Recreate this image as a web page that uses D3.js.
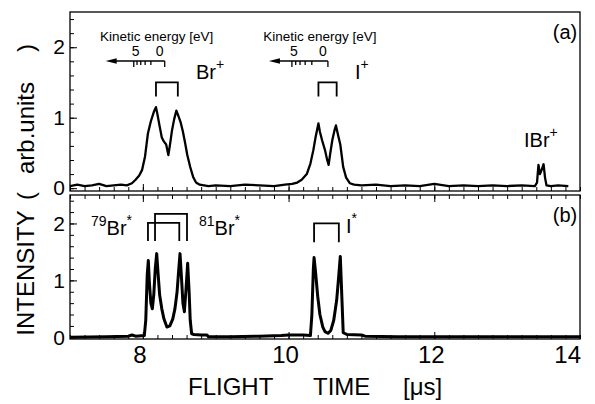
<!DOCTYPE html>
<html>
<head>
<meta charset="utf-8">
<script src="https://cdn.jsdelivr.net/npm/d3@7"></script>
<style>
    body { margin: 0; background: #fff; }
    text { font-family: "Liberation Sans", Arial, sans-serif; fill: #000; }
</style>
</head>
<body>
<script>
// flight time axis, intensity ticks
var timeTicks = [8, 10, 12, 14];
var intensityTicks = [0, 1, 2];

// (a) non-resonant spectrum: [flight time (us), intensity]
var spectrumA = [
    [7.0, 0.03], [7.1, 0.05], [7.2, 0.03], [7.3, 0.04], [7.4, 0.06],
    [7.5, 0.03], [7.6, 0.04], [7.7, 0.05], [7.78, 0.04], [7.85, 0.07],
    [7.9, 0.12], [7.95, 0.18], [7.99, 0.26], [8.03, 0.45], [8.07, 0.78],
    [8.11, 0.95], [8.15, 1.08], [8.18, 1.15], [8.2, 1.05], [8.23, 0.88],
    [8.26, 0.72], [8.29, 0.66], [8.32, 0.62], [8.35, 0.47], [8.37, 0.6],
    [8.4, 0.82], [8.43, 0.98], [8.46, 1.1], [8.49, 1.02], [8.52, 0.93],
    [8.55, 0.8], [8.58, 0.64], [8.61, 0.47], [8.65, 0.3], [8.69, 0.16],
    [8.73, 0.08], [8.78, 0.05], [8.9, 0.03], [9.0, 0.04], [9.2, 0.03],
    [9.4, 0.05], [9.6, 0.04], [9.8, 0.03], [9.95, 0.05], [10.05, 0.06],
    [10.12, 0.08], [10.18, 0.12], [10.25, 0.2], [10.3, 0.35], [10.34, 0.54],
    [10.37, 0.72], [10.41, 0.92], [10.43, 0.8], [10.46, 0.68], [10.5, 0.54],
    [10.53, 0.4], [10.55, 0.33], [10.57, 0.48], [10.6, 0.68], [10.63, 0.82],
    [10.65, 0.89], [10.68, 0.75], [10.71, 0.62], [10.75, 0.3], [10.79, 0.15],
    [10.84, 0.07], [10.9, 0.05], [11.0, 0.04], [11.2, 0.05], [11.4, 0.03],
    [11.6, 0.04], [11.8, 0.03], [12.0, 0.06], [12.2, 0.03], [12.4, 0.04],
    [12.6, 0.03], [12.8, 0.04], [13.0, 0.03], [13.2, 0.04], [13.38, 0.03],
    [13.41, 0.08], [13.43, 0.33], [13.45, 0.2], [13.47, 0.25], [13.5, 0.34],
    [13.52, 0.15], [13.54, 0.04], [13.6, 0.03], [13.7, 0.04], [13.84, 0.03]
];

// (b) resonant spectrum
var spectrumB = [
    [7.0, 0.0], [7.5, 0.01], [7.8, 0.02], [7.85, 0.04], [7.9, 0.02],
    [8.02, 0.03], [8.04, 0.3], [8.06, 1.1], [8.075, 1.35], [8.09, 0.95],
    [8.11, 0.6], [8.13, 0.5], [8.15, 0.75], [8.17, 1.2], [8.19, 1.47],
    [8.21, 1.1], [8.23, 0.75], [8.26, 0.5], [8.29, 0.32], [8.33, 0.18],
    [8.37, 0.2], [8.41, 0.32], [8.44, 0.5], [8.47, 0.8], [8.49, 1.15],
    [8.51, 1.47], [8.53, 1.05], [8.55, 0.6], [8.57, 0.45], [8.59, 0.8],
    [8.615, 1.3], [8.635, 0.8], [8.65, 0.3], [8.67, 0.06], [8.7, 0.05],
    [8.8, 0.04], [8.88, 0.04], [8.9, 0.01], [9.2, 0.01], [9.6, 0.02],
    [9.9, 0.03], [10.0, 0.04], [10.2, 0.04], [10.3, 0.03], [10.32, 0.4],
    [10.34, 1.2], [10.35, 1.4], [10.37, 1.15], [10.4, 0.72], [10.43, 0.4],
    [10.47, 0.18], [10.5, 0.1], [10.54, 0.07], [10.58, 0.12], [10.62, 0.3],
    [10.66, 0.65], [10.69, 1.1], [10.71, 1.42], [10.73, 0.75], [10.75, 0.08],
    [10.8, 0.05], [11.0, 0.04], [11.05, 0.02], [11.5, 0.01], [12.0, 0.01],
    [13.0, 0.01], [14.0, 0.01]
];

// brackets: [start, end, top, leg bottom]
var bracketsA = [[8.18, 8.48, 1.5, 1.3], [10.41, 10.66, 1.5, 1.3]];
var bracketsB = [[8.07, 8.5, 2.01, 1.69], [8.167, 8.606, 2.17, 1.69],
                 [10.35, 10.69, 2.0, 1.67]];

// kinetic energy scales: zero-energy flight time and spread per sqrt(eV)
var energyTicks = [0, 1, 2, 3, 4, 5];
var energyScales = [[8.30, 0.19], [10.54, 0.221]];

var width = 595, height = 404;

var x = d3.scaleLinear().domain([7, 14]).range([70, 580]);
var yA = d3.scaleLinear().domain([-0.04, 2.5]).range([191, 12]);
var yB = d3.scaleLinear().domain([-0.03, 2.5]).range([339, 195]);

var svg = d3.select("body").append("svg")
    .attr("width", width)
    .attr("height", height);

var minorX = d3.range(7, 14.001, 0.2);
var minorY = d3.range(0, 2.501, 0.2);

function drawPanel(y, data, top, bottom, lineWidth, tag) {
    var g = svg.append("g");

    // left axis, ticks inside
    g.append("g")
        .attr("transform", "translate(" + x(7) + ",0)")
        .call(d3.axisLeft(y).tickValues(minorY).tickSize(-4).tickFormat(""))
        .call(function(a) { a.select(".domain").remove(); });
    g.append("g")
        .attr("transform", "translate(" + x(7) + ",0)")
        .call(d3.axisLeft(y).tickValues(intensityTicks).tickSize(-7)
            .tickPadding(5).tickFormat(d3.format("d")))
        .call(function(a) {
            a.select(".domain").remove();
            a.selectAll("text").style("font-size", "21px")
                .style("font-family", "Liberation Sans, Arial, sans-serif");
        });

    // bottom axis, ticks inside
    g.append("g")
        .attr("transform", "translate(0," + bottom + ")")
        .call(d3.axisBottom(x).tickValues(minorX).tickSize(-4).tickFormat(""))
        .call(function(a) { a.select(".domain").remove(); });
    g.append("g")
        .attr("transform", "translate(0," + bottom + ")")
        .call(d3.axisBottom(x).tickValues(timeTicks.slice(0, 3)).tickSize(-7)
            .tickFormat(""))
        .call(function(a) { a.select(".domain").remove(); });

    g.append("path")
        .datum(data)
        .attr("fill", "none")
        .attr("stroke", "#000")
        .attr("stroke-width", lineWidth)
        .attr("stroke-linejoin", "round")
        .attr("d", d3.line()
            .x(function(d) { return x(d[0]); })
            .y(function(d) { return y(d[1]); }));

    g.append("rect")
        .attr("x", x(7))
        .attr("y", top)
        .attr("width", x(14) - x(7))
        .attr("height", bottom - top)
        .attr("fill", "none")
        .attr("stroke", "#000")
        .attr("stroke-width", 1.3);

    g.append("text")
        .attr("x", 565)
        .attr("y", top + 27)
        .attr("text-anchor", "middle")
        .style("font-size", "20px")
        .text(tag);
    return g;
}

var gA = drawPanel(yA, spectrumA, 12, 191, 2.3, "(a)");
var gB = drawPanel(yB, spectrumB, 195, 339, 3, "(b)");

// top edge ticks of panel b point down into the panel
gB.append("g")
    .attr("transform", "translate(0,195)")
    .call(d3.axisTop(x).tickValues(minorX).tickSize(-4).tickFormat(""))
    .call(function(a) { a.select(".domain").remove(); });
gB.append("g")
    .attr("transform", "translate(0,195)")
    .call(d3.axisTop(x).tickValues(timeTicks.slice(0, 3)).tickSize(-7)
        .tickFormat(""))
    .call(function(a) { a.select(".domain").remove(); });

// time labels
svg.selectAll(".tlabel")
    .data(timeTicks)
    .enter().append("text")
    .attr("class", "tlabel")
    .attr("x", function(d) { return d === 14 ? x(d) + 1 : x(d) - 3; })
    .attr("y", 363)
    .attr("text-anchor", function(d) { return d === 14 ? "end" : "middle"; })
    .style("font-size", "24px")
    .text(function(d) { return d; });

// axis titles
var titleX = [["FLIGHT", 188], ["TIME", 313], ["[\u03bcs]", 403]];
svg.selectAll(".xtitle")
    .data(titleX)
    .enter().append("text")
    .attr("class", "xtitle")
    .attr("x", function(d) { return d[1]; })
    .attr("y", 395)
    .style("font-size", "24px")
    .text(function(d) { return d[0]; });

var titleY = [["INTENSITY", 273], ["(", 196], ["arb.units", 128], [")", 48]];
svg.selectAll(".ytitle")
    .data(titleY)
    .enter().append("text")
    .attr("class", "ytitle")
    .attr("transform", function(d) {
        return "translate(34," + d[1] + ") rotate(-90)";
    })
    .attr("text-anchor", "middle")
    .style("font-size", "24px")
    .text(function(d) { return d[0]; });

// brackets
function drawBrackets(g, y, list) {
    g.selectAll(null)
        .data(list)
        .enter().append("path")
        .attr("fill", "none")
        .attr("stroke", "#000")
        .attr("stroke-width", 1.8)
        .attr("d", function(d) {
            return "M" + x(d[0]) + "," + y(d[3]) +
                "V" + y(d[2]) + "H" + x(d[1]) + "V" + y(d[3]);
        });
}
drawBrackets(gA, yA, bracketsA);
drawBrackets(gB, yB, bracketsB);

// kinetic energy scales in panel a
energyScales.forEach(function(s) {
    var x0 = x(s[0]);
    var ex = function(e) { return x(s[0] - s[1] * Math.sqrt(e)); };
    var ly = 61;
    var k = gA.append("g");
    k.append("text")
        .attr("x", x0 - 8)
        .attr("y", 41)
        .attr("text-anchor", "middle")
        .style("font-size", "13.5px")
        .text("Kinetic energy [eV]");
    k.append("text").attr("x", ex(5) + 2).attr("y", 56)
        .attr("text-anchor", "middle").style("font-size", "14px").text("5");
    k.append("text").attr("x", x0 - 5).attr("y", 56)
        .attr("text-anchor", "middle").style("font-size", "14px").text("0");
    k.append("line")
        .attr("x1", x0 - 50).attr("x2", x0)
        .attr("y1", ly).attr("y2", ly)
        .attr("stroke", "#000").attr("stroke-width", 1.7);
    k.append("path")
        .attr("d", "M" + (x0 - 59) + "," + ly + "l11,-2.8v5.6z")
        .attr("fill", "#000");
    k.selectAll(null)
        .data(energyTicks)
        .enter().append("line")
        .attr("x1", ex).attr("x2", ex)
        .attr("y1", ly)
        .attr("y2", function(e) { return (e === 0 || e === 5) ? ly + 6 : ly + 4; })
        .attr("stroke", "#000").attr("stroke-width", 1.3);
});

// ion labels
function ionLabel(g, px, py, pre, main, sup) {
    var t = g.append("text").attr("x", px).attr("y", py)
        .style("font-size", "20px");
    if (pre) {
        t.append("tspan").attr("dy", -9).style("font-size", "14px").text(pre);
        t.append("tspan").attr("dy", 9).text(main);
    } else {
        t.append("tspan").text(main);
    }
    t.append("tspan").attr("dy", -10).style("font-size", "14px").text(sup);
}
ionLabel(gA, 196, 79, null, "Br", "+");
ionLabel(gA, 355, 79, null, "I", "+");
ionLabel(gA, 524, 147, null, "IBr", "+");
ionLabel(gB, 91, 235, "79", "Br", "*");
ionLabel(gB, 199, 235, "81", "Br", "*");
ionLabel(gB, 346, 233, null, "I", "*");
</script>
</body>
</html>
